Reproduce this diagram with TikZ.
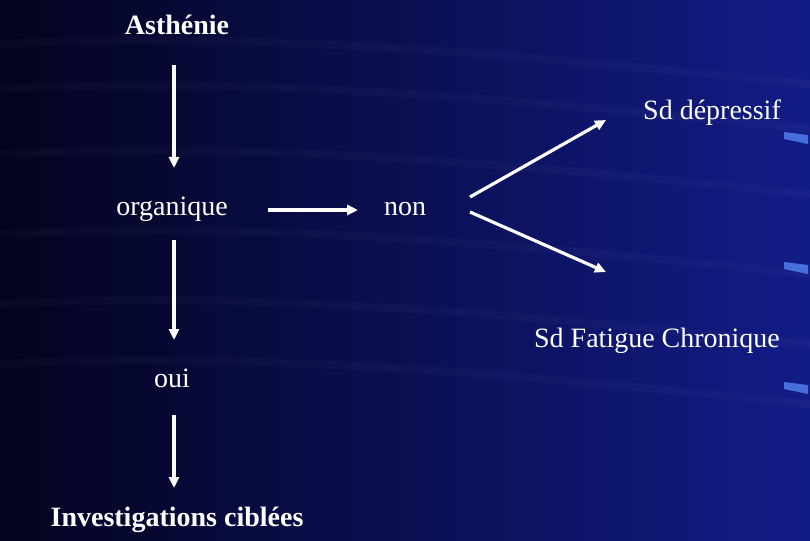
\documentclass[tikz,border=0pt]{standalone}
\usepackage{fontspec}
\setmainfont{Liberation Serif}
\usetikzlibrary{arrows.meta}
\definecolor{bgl}{RGB}{3,3,30}
\definecolor{bgr}{RGB}{18,28,135}
\definecolor{streak}{RGB}{70,110,220}
\begin{document}
\begin{tikzpicture}[x=1pt,y=-1pt,
  lbl/.style={text=white,font=\fontsize{28}{32}\selectfont,inner sep=0pt},
  blbl/.style={lbl,font=\fontsize{28}{32}\selectfont\bfseries},
  arr/.style={draw=white,line width=3.2pt,-{Triangle[length=11pt,width=10pt]}}]
\fill[left color=bgl,right color=bgr] (0,0) rectangle (810,540);
\useasboundingbox (0,0) rectangle (810,540);
\foreach \y in {40,85,150,230,300,360}{
  \fill[white,opacity=0.025] (0,\y) .. controls (300,\y-15) and (600,\y+20) .. (810,\y+40) -- (810,\y+48) .. controls (600,\y+28) and (300,\y-7) .. (0,\y+8) -- cycle;}
\foreach \y in {132,262,382}{
  \fill[streak] (784,\y) -- (808,\y+3) -- (808,\y+12) -- (784,\y+7) -- cycle;}
\node[blbl] (ast) at (177,25) {Asthénie};
\node[lbl] (org) at (172,209) {organique};
\node[lbl] (non) at (405,209) {non};
\node[lbl] (dep) at (712,113) {Sd dépressif};
\node[lbl] (fat) at (657,341) {Sd Fatigue Chronique};
\node[lbl] (oui) at (172,378) {oui};
\node[blbl] (inv) at (177,520) {Investigations ciblées};
\coordinate (a1) at (174,65); \coordinate (a2) at (174,168);
\coordinate (b1) at (268,210); \coordinate (b2) at (358,210);
\coordinate (c1) at (174,240); \coordinate (c2) at (174,340);
\coordinate (d1) at (174,415); \coordinate (d2) at (174,488);
\coordinate (e1) at (470,197); \coordinate (e2) at (606,120);
\coordinate (f1) at (470,212); \coordinate (f2) at (606,272);
\draw[arr] (a1) -- (a2);
\draw[arr] (b1) -- (b2);
\draw[arr] (c1) -- (c2);
\draw[arr] (d1) -- (d2);
\draw[arr] (e1) -- (e2);
\draw[arr] (f1) -- (f2);
\end{tikzpicture}
\end{document}
